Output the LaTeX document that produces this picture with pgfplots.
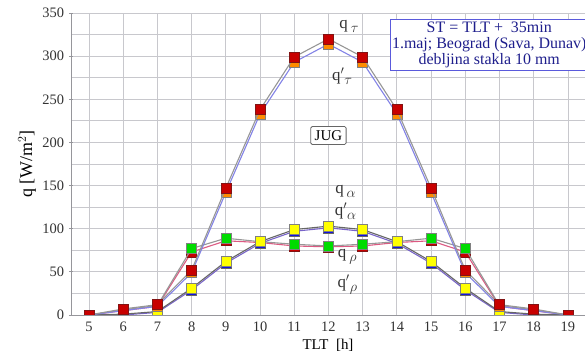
\documentclass[border=0pt]{standalone}
\usepackage{pgfplots}
\pgfplotsset{compat=1.18}
\usepackage{fontspec}
\setmainfont{Liberation Serif}
\usetikzlibrary{calc}
\definecolor{gridc}{RGB}{200,200,205}
\definecolor{axc}{RGB}{150,150,155}
\definecolor{mred}{RGB}{200,0,0}
\definecolor{mredd}{RGB}{130,20,20}
\definecolor{morange}{RGB}{255,140,0}
\definecolor{myellow}{RGB}{255,255,0}
\definecolor{mblue}{RGB}{20,20,220}
\definecolor{mgreen}{RGB}{0,220,0}
\definecolor{lblue}{RGB}{130,130,230}
\definecolor{lgray}{RGB}{150,150,150}
\definecolor{lpink}{RGB}{220,90,130}
\definecolor{lpurple}{RGB}{120,100,200}
\definecolor{txtblue}{RGB}{30,30,140}
\definecolor{boxblue}{RGB}{90,90,220}
\pgfplotstableread{
x qt qtp qa qap qr qrp
5 0 0 0 0 0 0
6 7 5 1 0 6 5
7 12 10 4 3 11 10
8 52 49 31 29 77 73
9 147 142 62 60 89 86
10 238 233 85 83 85 84
11 299 293 99 97 82 80
12 320 314 103 101 80 79
13 299 293 99 97 82 80
14 238 233 85 83 85 84
15 147 142 62 60 89 86
16 52 49 31 29 77 73
17 12 10 4 3 11 10
18 7 5 1 0 6 5
19 0 0 0 0 0 0
}\data
\newcommand{\sub}[1]{\raisebox{-4bp}{\fontsize{14}{14}\selectfont$#1$}}
\begin{document}
\fontsize{14}{16}\selectfont
\begin{tikzpicture}
\begin{axis}[
  scale only axis,
  width=514bp, height=302bp,
  xmin=4.474, xmax=19.5,
  ymin=0, ymax=350,
  xtick={5,...,19},
  ytick={0,50,...,350},
  minor y tick num=1,
  grid=both,
  major grid style={gridc, line width=0.8pt},
  minor grid style={gridc, line width=0.8pt},
  axis x line=bottom, axis y line=left,
  axis line style={axc, line width=1pt, -},
  x axis line style={-}, y axis line style={-},
  tick style={axc, line width=0.8pt},
  major tick length=4bp, minor tick length=0pt,
  xtick style={draw=none},
  tick label style={font=\fontsize{14.5}{16}\selectfont, text=black!80},
  /pgf/number format/assume math mode=true,
  xlabel={TLT\ \ [h]},
  ylabel={q [W/m$^2$]},
  xlabel style={font=\fontsize{15}{17}\selectfont, yshift=2bp},
  ylabel style={font=\fontsize{18}{20}\selectfont, yshift=-3bp},
  clip marker paths=true,
  every axis plot/.append style={line width=1.1pt},
  mark size=5bp,
]
\coordinate (bl) at (rel axis cs:0,0);
\coordinate (tr) at (rel axis cs:1,1);
\addplot[lpink, mark=square*, mark options={fill=mred, draw=mredd, line width=0.6pt}] table[x=x,y=qrp]{\data};
\addplot[lgray, mark=square*, mark options={fill=mgreen, draw=black!50, line width=0.6pt}] table[x=x,y=qr]{\data};
\addplot[lpurple, mark=square*, mark options={fill=mblue, draw=black!60, line width=0.6pt}] table[x=x,y=qap]{\data};
\addplot[black!60, mark=square*, mark options={fill=myellow, draw=black!50, line width=0.6pt}] table[x=x,y=qa]{\data};
\addplot[lblue, mark=square*, mark options={fill=morange, draw=black!50, line width=0.6pt}] table[x=x,y=qtp]{\data};
\addplot[lgray, mark=square*, mark options={fill=mred, draw=mredd, line width=0.6pt}] table[x=x,y=qt]{\data};
\node[font=\fontsize{17}{18}\selectfont, text=black!80] at (axis cs:12.6,335) {q\,\sub{\tau}};
\node[font=\fontsize{17}{18}\selectfont, text=black!80] at (axis cs:12.4,277) {q$'$\sub{\tau}};
\node[font=\fontsize{17}{18}\selectfont, text=black!80] at (axis cs:12.5,143) {q\,\sub{\alpha}};
\node[font=\fontsize{17}{18}\selectfont, text=black!80] at (axis cs:12.5,120) {q$'$\sub{\alpha}};
\node[font=\fontsize{17}{18}\selectfont, text=black!80] at (axis cs:12.55,67) {q\,\sub{\rho}};
\node[font=\fontsize{17}{18}\selectfont, text=black!80] at (axis cs:12.55,35) {q$'$\sub{\rho}};
\node[draw=black!60, fill=white, rounded corners=1.5pt, line width=0.8pt, inner sep=4pt, font=\fontsize{15}{16}\selectfont] at (axis cs:12.0,208) {JUG};
\node[draw=boxblue, fill=white, line width=0.8pt, text=txtblue, align=center, inner sep=2pt, font=\fontsize{16}{16.5}\selectfont] at (axis cs:16.7,313) {ST =\ TLT +\ \ 35min\\1.maj; Beograd (Sava, Dunav)\\debljina stakla 10 mm};
\end{axis}
\pgfresetboundingbox
\path ($(bl)+(-71bp,-46bp)$) rectangle ($(tr)+(0bp,13bp)$);
\end{tikzpicture}
\end{document}
